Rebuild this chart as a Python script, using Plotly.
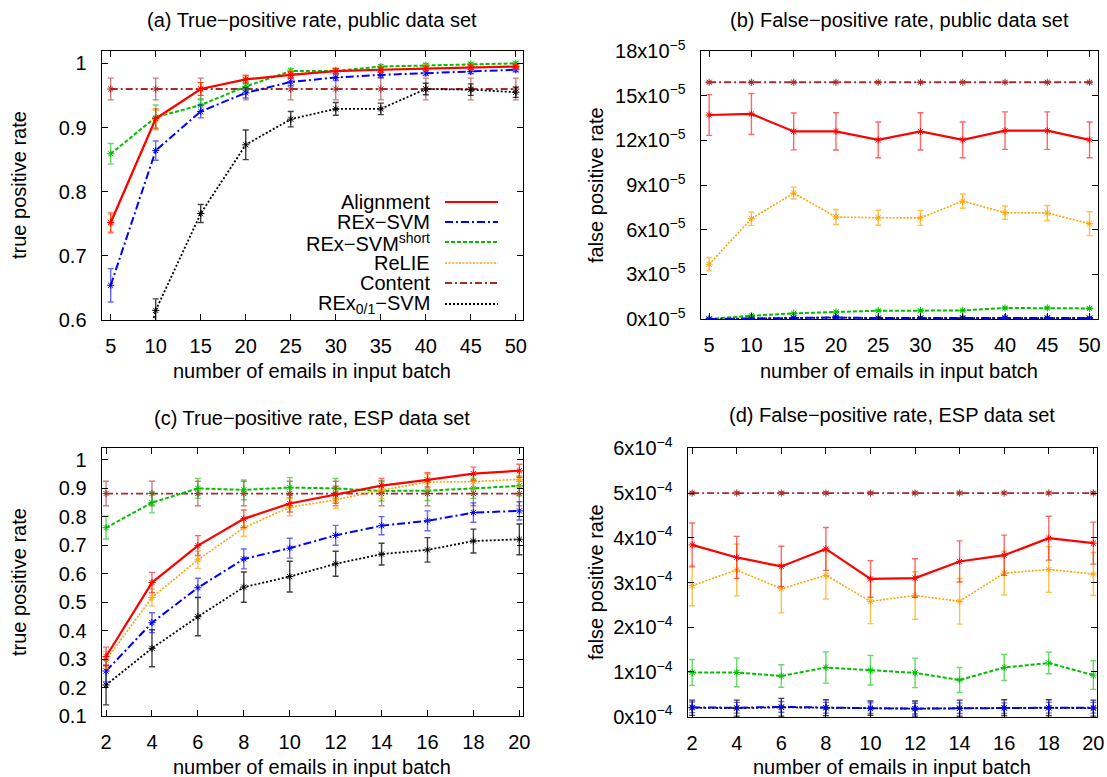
import plotly.graph_objects as go

W, H = 1107, 777
FONT = "Liberation Sans, Arial, Helvetica, sans-serif"

# ---------------- data ----------------
x_public = [5, 10, 15, 20, 25, 30, 35, 40, 45, 50]
x_esp = [2, 4, 6, 8, 10, 12, 14, 16, 18, 20]

names = ["Alignment", "REx\u2212SVM", "REx\u2212SVM<sup>short</sup>", "ReLIE", "Content",
         "REx<sub>0/1</sub>\u2212SVM"]

# (a) true-positive rate, public data set
tp_pub_alignment = [0.752, 0.914, 0.960, 0.975, 0.982, 0.988, 0.990, 0.992, 0.994, 0.995]
tp_pub_alignment_err = [0.015, 0.015, 0.010, 0.006, 0.005, 0.004, 0.004, 0.004, 0.003, 0.003]
tp_pub_rexsvm = [0.654, 0.864, 0.925, 0.954, 0.971, 0.978, 0.982, 0.985, 0.987, 0.990]
tp_pub_rexsvm_err = [0.026, 0.015, 0.010, 0.008, 0.006, 0.005, 0.004, 0.004, 0.003, 0.003]
tp_pub_short = [0.859, 0.916, 0.935, 0.964, 0.988, 0.988, 0.995, 0.997, 0.999, 1.000]
tp_pub_short_err = [0.016, 0.019, 0.010, 0.006, 0.004, 0.004, 0.003, 0.003, 0.002, 0.002]
tp_pub_relie = [0.750, 0.912, 0.960, 0.975, 0.983, 0.988, 0.990, 0.993, 0.994, 0.995]
tp_pub_relie_err = [0.015, 0.015, 0.010, 0.006, 0.005, 0.004, 0.004, 0.004, 0.003, 0.003]
tp_pub_content = [0.960] * 10
tp_pub_content_err = [0.017] * 10
tp_pub_rex01 = [0.350, 0.615, 0.766, 0.873, 0.913, 0.929, 0.929, 0.960, 0.959, 0.955]
tp_pub_rex01_err = [0.020, 0.018, 0.014, 0.023, 0.012, 0.010, 0.009, 0.009, 0.009, 0.008]

# (b) false-positive rate, public data set (units of 1e-5)
fp_pub_alignment = [13.70, 13.77, 12.60, 12.60, 12.03, 12.60, 12.03, 12.65, 12.65, 12.03]
fp_pub_alignment_err = [1.37, 1.38, 1.24, 1.25, 1.20, 1.25, 1.20, 1.26, 1.26, 1.20]
fp_pub_rexsvm = [0.00, 0.05, 0.08, 0.10, 0.06, 0.07, 0.08, 0.09, 0.08, 0.07]
fp_pub_rexsvm_err = [0.03, 0.04, 0.04, 0.05, 0.04, 0.04, 0.04, 0.05, 0.04, 0.04]
fp_pub_short = [0.00, 0.22, 0.38, 0.47, 0.56, 0.56, 0.58, 0.74, 0.74, 0.71]
fp_pub_short_err = [0.03, 0.05, 0.05, 0.06, 0.06, 0.06, 0.06, 0.07, 0.07, 0.07]
fp_pub_relie = [3.68, 6.74, 8.46, 6.85, 6.80, 6.79, 7.92, 7.14, 7.12, 6.40]
fp_pub_relie_err = [0.45, 0.45, 0.40, 0.50, 0.50, 0.50, 0.48, 0.45, 0.50, 0.80]
fp_pub_content = [15.9] * 10
fp_pub_content_err = [0.05] * 10
fp_pub_rex01 = [0.00, 0.05, 0.05, 0.10, 0.05, 0.05, 0.06, 0.07, 0.05, 0.05]
fp_pub_rex01_err = [0.03, 0.04, 0.04, 0.05, 0.04, 0.04, 0.04, 0.04, 0.04, 0.04]

# (c) true-positive rate, ESP data set
tp_esp_alignment = [0.309, 0.569, 0.699, 0.793, 0.847, 0.878, 0.910, 0.930, 0.952, 0.962]
tp_esp_alignment_err = [0.033, 0.036, 0.035, 0.031, 0.030, 0.030, 0.025, 0.025, 0.023, 0.023]
tp_esp_rexsvm = [0.258, 0.428, 0.551, 0.652, 0.690, 0.735, 0.769, 0.786, 0.815, 0.821]
tp_esp_rexsvm_err = [0.038, 0.035, 0.033, 0.035, 0.035, 0.035, 0.032, 0.035, 0.034, 0.032]
tp_esp_short = [0.762, 0.850, 0.900, 0.895, 0.903, 0.900, 0.891, 0.892, 0.900, 0.909]
tp_esp_short_err = [0.040, 0.036, 0.035, 0.035, 0.035, 0.035, 0.035, 0.035, 0.035, 0.035]
tp_esp_relie = [0.297, 0.517, 0.649, 0.762, 0.834, 0.860, 0.894, 0.922, 0.924, 0.932]
tp_esp_relie_err = [0.030, 0.030, 0.030, 0.030, 0.030, 0.030, 0.030, 0.028, 0.028, 0.027]
tp_esp_content = [0.882] * 10
tp_esp_content_err = [0.043] * 10
tp_esp_rex01 = [0.209, 0.338, 0.449, 0.553, 0.590, 0.635, 0.669, 0.684, 0.715, 0.721]
tp_esp_rex01_err = [0.070, 0.065, 0.067, 0.053, 0.054, 0.044, 0.038, 0.043, 0.042, 0.054]

# (d) false-positive rate, ESP data set (units of 1e-4)
fp_esp_alignment = [3.84, 3.56, 3.36, 3.75, 3.08, 3.10, 3.47, 3.61, 3.99, 3.88]
fp_esp_alignment_err = [0.49, 0.47, 0.45, 0.48, 0.41, 0.43, 0.46, 0.45, 0.49, 0.47]
fp_esp_rexsvm = [0.21, 0.20, 0.22, 0.20, 0.19, 0.18, 0.19, 0.19, 0.20, 0.20]
fp_esp_rexsvm_err = [0.12, 0.12, 0.12, 0.12, 0.12, 0.12, 0.12, 0.12, 0.12, 0.12]
fp_esp_short = [0.99, 0.99, 0.91, 1.10, 1.04, 0.98, 0.82, 1.10, 1.20, 0.93]
fp_esp_short_err = [0.29, 0.32, 0.25, 0.35, 0.33, 0.33, 0.28, 0.29, 0.24, 0.32]
fp_esp_relie = [2.93, 3.28, 2.86, 3.16, 2.58, 2.71, 2.58, 3.21, 3.29, 3.19]
fp_esp_relie_err = [0.45, 0.58, 0.54, 0.53, 0.50, 0.53, 0.51, 0.49, 0.51, 0.48]
fp_esp_content = [5.0] * 10
fp_esp_content_err = [0.03] * 10
fp_esp_rex01 = [0.20, 0.19, 0.21, 0.20, 0.19, 0.18, 0.19, 0.20, 0.20, 0.19]
fp_esp_rex01_err = [0.17, 0.18, 0.20, 0.18, 0.16, 0.17, 0.18, 0.18, 0.18, 0.18]

fp_pub_ticks = [0, 3, 6, 9, 12, 15, 18]
fp_esp_ticks = [0, 1, 2, 3, 4, 5, 6]

# ---------------- styles ----------------
colors = ["#ff0000", "#0000ff", "#00c000", "#ffa500", "#a52a2a", "#000000"]
err_colors = ["rgba(255,0,0,0.6)", "rgba(0,0,255,0.6)", "rgba(0,192,0,0.6)",
              "rgba(255,165,0,0.7)", "rgba(165,42,42,0.6)", "rgba(0,0,0,0.75)"]
dashes = ["solid", "8px,3px,2px,3px", "4px,2px", "2px,1.5px", "7px,3px,2px,3px", "2px,2px"]
widths = [2.2, 2.0, 2.0, 1.6, 1.8, 1.8]


def px(xp):
    return xp / W


def py(yp):
    return 1 - yp / H


fig = go.Figure()

panels = [
    ("x", "y", x_public, 1.0,
     [tp_pub_alignment, tp_pub_rexsvm, tp_pub_short, tp_pub_relie, tp_pub_content, tp_pub_rex01],
     [tp_pub_alignment_err, tp_pub_rexsvm_err, tp_pub_short_err, tp_pub_relie_err,
      tp_pub_content_err, tp_pub_rex01_err]),
    ("x2", "y2", x_public, 1e-5,
     [fp_pub_alignment, fp_pub_rexsvm, fp_pub_short, fp_pub_relie, fp_pub_content, fp_pub_rex01],
     [fp_pub_alignment_err, fp_pub_rexsvm_err, fp_pub_short_err, fp_pub_relie_err,
      fp_pub_content_err, fp_pub_rex01_err]),
    ("x3", "y3", x_esp, 1.0,
     [tp_esp_alignment, tp_esp_rexsvm, tp_esp_short, tp_esp_relie, tp_esp_content, tp_esp_rex01],
     [tp_esp_alignment_err, tp_esp_rexsvm_err, tp_esp_short_err, tp_esp_relie_err,
      tp_esp_content_err, tp_esp_rex01_err]),
    ("x4", "y4", x_esp, 1e-4,
     [fp_esp_alignment, fp_esp_rexsvm, fp_esp_short, fp_esp_relie, fp_esp_content, fp_esp_rex01],
     [fp_esp_alignment_err, fp_esp_rexsvm_err, fp_esp_short_err, fp_esp_relie_err,
      fp_esp_content_err, fp_esp_rex01_err]),
]

# draw order: content first, then others (so brown is underneath)
order = [4, 5, 2, 1, 3, 0]
for xa, ya, xs, scale, series, errs in panels:
    for i in order:
        fig.add_trace(go.Scatter(
            x=xs, y=[v * scale for v in series[i]],
            xaxis=xa, yaxis=ya, mode="lines+markers", name=names[i],
            showlegend=False,
            line=dict(color=colors[i], width=widths[i], dash=dashes[i]),
            marker=dict(symbol="asterisk-open", size=6, color=colors[i],
                        line=dict(width=1, color=colors[i])),
            error_y=dict(type="data", array=[e * scale for e in errs[i]],
                         color=err_colors[i], thickness=1.4, width=3),
            cliponaxis=True,
        ))

axis_common = dict(showline=True, linecolor="black", linewidth=1.3, mirror="allticks",
                   ticks="inside", ticklen=6, tickwidth=1, tickcolor="black",
                   showgrid=False, zeroline=False, automargin=False,
                   tickfont=dict(family=FONT, size=20, color="black"))

fig.update_layout(
    template="none",
    width=W, height=H, margin=dict(l=0, r=0, t=0, b=0, pad=0, autoexpand=False),
    paper_bgcolor="white", plot_bgcolor="white",
    font=dict(family=FONT, size=20, color="black"),
    xaxis=dict(domain=[px(101.7), px(523)], range=[4, 50.8], anchor="y",
               tickvals=x_public, ticklabelstandoff=8, **axis_common),
    yaxis=dict(domain=[py(320), py(50.7)], range=[0.6, 1.0197], anchor="x",
               tickvals=[0.6, 0.7, 0.8, 0.9, 1.0], ticktext=["0.6", "0.7", "0.8", "0.9", "1"],
               ticklabelstandoff=10, **axis_common),
    xaxis2=dict(domain=[px(700.7), px(1098)], range=[4, 51.0], anchor="y2",
                tickvals=x_public, ticklabelstandoff=8, **axis_common),
    yaxis2=dict(domain=[py(319), py(51)], range=[0, 18e-5], anchor="x2",
                tickvals=[t * 1e-5 for t in fp_pub_ticks],
                ticktext=[f"{t}x10<sup>\u22125</sup>" for t in fp_pub_ticks],
                ticklabelstandoff=10, **axis_common),
    xaxis3=dict(domain=[px(101.7), px(523)], range=[1.81, 20.16], anchor="y3",
                tickvals=x_esp, ticklabelstandoff=8, **axis_common),
    yaxis3=dict(domain=[py(716), py(448.3)], range=[0.1, 1.041], anchor="x3",
                tickvals=[0.1, 0.2, 0.3, 0.4, 0.5, 0.6, 0.7, 0.8, 0.9, 1.0],
                ticktext=["0.1", "0.2", "0.3", "0.4", "0.5", "0.6", "0.7", "0.8", "0.9", "1"],
                ticklabelstandoff=10, **axis_common),
    xaxis4=dict(domain=[px(687.7), px(1096.7)], range=[1.8, 20.15], anchor="y4",
                tickvals=x_esp, ticklabelstandoff=8, **axis_common),
    yaxis4=dict(domain=[py(716.7), py(448.3)], range=[0, 6e-4], anchor="x4",
                tickvals=[t * 1e-4 for t in fp_esp_ticks],
                ticktext=[f"{t}x10<sup>\u22124</sup>" for t in fp_esp_ticks],
                ticklabelstandoff=10, **axis_common),
)

ann = []


def text(s, xp, yp, xanchor="center", angle=0, size=20):
    ann.append(dict(text=s, x=px(xp), y=py(yp), xref="paper", yref="paper",
                    xanchor=xanchor, yanchor="middle", showarrow=False, textangle=angle,
                    font=dict(family=FONT, size=size, color="black")))


# subplot titles
text("(a) True\u2212positive rate, public data set", 312, 20)
text("(b) False\u2212positive rate, public data set", 899, 20)
text("(c) True\u2212positive rate, ESP data set", 312, 418)
text("(d) False\u2212positive rate, ESP data set", 892, 415)
# axis titles
text("number of emails in input batch", 312, 371)
text("number of emails in input batch", 899, 371)
text("number of emails in input batch", 312, 767)
text("number of emails in input batch", 892, 767)
text("true positive rate", 19, 185, angle=-90)
text("false positive rate", 596, 185, angle=-90)
text("true positive rate", 19, 582, angle=-90)
text("false positive rate", 596, 582, angle=-90)

# legend (gnuplot-style: text right-aligned, line sample to the right)
legend_rows = [202, 222, 242, 263, 283, 304]
shapes = []
for i, yrow in enumerate(legend_rows):
    text(names[i], 432, yrow, xanchor="right")
    shapes.append(dict(type="line", xref="paper", yref="paper",
                       x0=px(445), x1=px(498), y0=py(yrow), y1=py(yrow),
                       line=dict(color=colors[i], width=widths[i], dash=dashes[i])))

fig.update_layout(annotations=ann, shapes=shapes)

fig.write_html("out.html", config={"displayModeBar": False},
               post_script="document.body.style.margin='0';document.body.style.overflow='hidden';")
